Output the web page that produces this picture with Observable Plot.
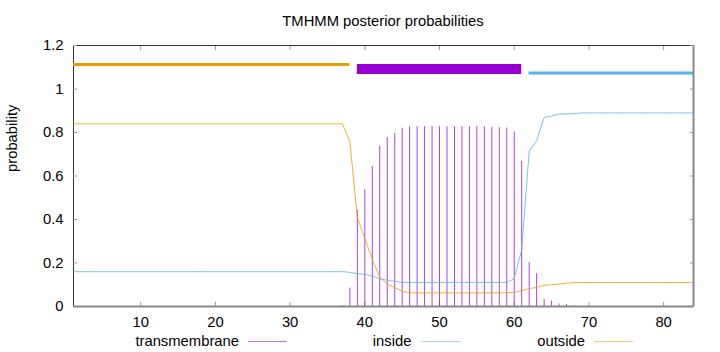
<!DOCTYPE html>
<html>
<head>
<meta charset="utf-8">
<script src="https://cdn.jsdelivr.net/npm/d3@7"></script>
<script src="https://cdn.jsdelivr.net/npm/@observablehq/plot@0.6"></script>
<style>
  html, body { margin: 0; padding: 0; background: #fff; }
  #wrap { position: relative; width: 720px; height: 352px; font-family: "Liberation Sans", Arial, sans-serif; color: #000; }
  #title { position: absolute; left: 73px; width: 620px; top: 12px; height: 18px; line-height: 18px; text-align: center; font-size: 14.8px; }
  #chart { position: absolute; left: 0; top: 30px; }
  .lg-text { position: absolute; font-size: 14.8px; line-height: 14px; text-align: right; white-space: nowrap; }
  .lg-line { position: absolute; height: 1px; }
</style>
</head>
<body>
<div id="wrap">
  <div id="title">TMHMM posterior probabilities</div>
  <div id="chart"></div>
  <div id="legend"></div>
</div>
<script>
// ---- data ----
const transmembrane = [
  0,0,0,0,0,0,0,0,0,0, 0,0,0,0,0,0,0,0,0,0, 0,0,0,0,0,0,0,0,0,0, 0,0,0,0,0,0,
  0.003, 0.085, 0.442, 0.538, 0.644, 0.737, 0.777, 0.796, 0.820,
  0.827, 0.827, 0.827, 0.827, 0.827, 0.827, 0.827, 0.827, 0.827, 0.827, 0.827,
  0.824, 0.822, 0.821, 0.803, 0.667, 0.202, 0.151, 0.033, 0.024, 0.012, 0.009, 0.003,
  0,0,0,0,0,0,0,0,0,0,0,0,0,0,0,0
];
const inside = [
  0.160,0.160,0.160,0.160,0.160,0.160,0.160,0.160,0.160,0.160,
  0.160,0.160,0.160,0.160,0.160,0.160,0.160,0.160,0.160,0.160,
  0.160,0.160,0.160,0.160,0.160,0.160,0.160,0.160,0.160,0.160,
  0.160,0.160,0.160,0.160,0.160,0.160,0.160,
  0.157, 0.151, 0.148, 0.140, 0.128, 0.120, 0.117,
  0.110,0.110,0.110,0.110,0.110,0.110,0.110,0.110,0.110,0.110,0.110,0.110,0.110,0.110,0.110,
  0.128, 0.261, 0.714, 0.762, 0.869, 0.876, 0.885, 0.885, 0.887,
  0.890,0.890,0.890,0.890,0.890,0.890,0.890,0.890,0.890,0.890,0.890,0.890,0.890,0.890,0.890,0.890
];
const outside = [
  0.840,0.840,0.840,0.840,0.840,0.840,0.840,0.840,0.840,0.840,
  0.840,0.840,0.840,0.840,0.840,0.840,0.840,0.840,0.840,0.840,
  0.840,0.840,0.840,0.840,0.840,0.840,0.840,0.840,0.840,0.840,
  0.840,0.840,0.840,0.840,0.840,0.840,0.840,
  0.758, 0.407, 0.314, 0.216, 0.135, 0.103, 0.087, 0.070,
  0.063,0.063,0.063,0.063,0.063,0.063,0.063,0.063,0.063,0.063,0.063,0.063,0.063,0.063,
  0.065, 0.072, 0.083, 0.087, 0.098, 0.100, 0.103, 0.107,
  0.110,0.110,0.110,0.110,0.110,0.110,0.110,0.110,0.110,0.110,0.110,0.110,0.110,0.110,0.110,0.110,0.110
];
// predicted topology segments drawn above the curves
const regionType  = ["outside", "TMhelix", "inside"];
const regionStart = [1, 39, 62];
const regionEnd   = [38, 61, 84];
const regionLevel = [1.113, 1.092, 1.073];

const xDomain = [1, 84];
const yDomain = [0, 1.2];
const xTicks = [10, 20, 30, 40, 50, 60, 70, 80];
const yTicks = [0, 0.2, 0.4, 0.6, 0.8, 1, 1.2];
const yTickLabels = ["0", "0.2", "0.4", "0.6", "0.8", "1", "1.2"];
const legendLabels = ["transmembrane", "inside", "outside"];

// ---- styles ----
const colors = { transmembrane: "#9400D3", inside: "#56B4E9", outside: "#E69F00", TMhelix: "#9400D3" };
const bandWidth = { outside: 3, TMhelix: 10, inside: 3 };

const positions = transmembrane.map((_, i) => i + 1);
const rows = positions.map((p, i) => ({ pos: p, tm: transmembrane[i], inside: inside[i], outside: outside[i] }));
const regions = regionType.map((t, i) => ({ type: t, start: regionStart[i], end: regionEnd[i], level: regionLevel[i] }));

const chart = Plot.plot({
  width: 720,
  height: 300,
  marginLeft: 73,
  marginRight: 27,
  marginTop: 15,
  marginBottom: 24,
  style: { fontFamily: '"Liberation Sans", Arial, sans-serif', fontSize: "14.8px", background: "#fff", color: "#000" },
  x: { domain: xDomain },
  y: { domain: yDomain },
  marks: [
    // frame
    Plot.ruleX([xDomain[0]], { stroke: "#333", strokeWidth: 1 }),
    Plot.ruleY([yDomain[1]], { stroke: "#333", strokeWidth: 1 }),
    // inward ticks on all sides
    Plot.axisX(xTicks, { anchor: "bottom", tickSize: -4, text: null, stroke: "#999" }),
    Plot.axisX(xTicks, { anchor: "top", tickSize: -4, text: null, stroke: "#999" }),
    Plot.axisY(yTicks, { anchor: "left", tickSize: -4, text: null, stroke: "#999" }),
    Plot.axisY(yTicks, { anchor: "right", tickSize: -4, text: null, stroke: "#999" }),
    // tick labels
    Plot.axisX(xTicks, { anchor: "bottom", tickSize: 0, tickPadding: 10, label: null, fill: "#000" }),
    Plot.axisY(yTicks, { anchor: "left", tickSize: 0, tickPadding: 10, label: null, fill: "#000",
      tickFormat: (d, i) => yTickLabels[i] }),
    // transmembrane impulses
    Plot.ruleX(rows.filter(d => d.tm > 0), { x: "pos", y1: 0, y2: "tm", stroke: colors.transmembrane, strokeWidth: 1, strokeOpacity: 0.75 }),
    // inside / outside curves
    Plot.lineY(rows, { x: "pos", y: "inside", stroke: colors.inside, strokeWidth: 1, strokeOpacity: 0.8 }),
    Plot.lineY(rows, { x: "pos", y: "outside", stroke: colors.outside, strokeWidth: 1, strokeOpacity: 0.8 }),
    // topology bars
    ...regions.map(r => Plot.ruleY([r], { y: "level", x1: "start", x2: "end", stroke: colors[r.type], strokeWidth: bandWidth[r.type] })),
    // bottom & right border (gray)
    Plot.ruleY([yDomain[0]], { stroke: "#888", strokeWidth: 2 }),
    Plot.ruleX([xDomain[1]], { stroke: "#888", strokeWidth: 2 }),
    // y label
    Plot.text(["probability"], { frameAnchor: "left", dx: -61, dy: -4, rotate: -90, fontSize: 14.8, fill: "#000" })
  ]
});
document.getElementById("chart").appendChild(chart);

// legend below the svg
const legend = document.getElementById("legend");
const legendTextRight = [239, 411.5, 585];
legendLabels.forEach((name, i) => {
  const t = document.createElement("div");
  t.className = "lg-text";
  t.textContent = name;
  t.style.right = (720 - legendTextRight[i]) + "px";
  t.style.top = "334px";
  legend.appendChild(t);
  const l = document.createElement("div");
  l.className = "lg-line";
  l.style.left = (legendTextRight[i] + 9) + "px";
  l.style.width = "39px";
  l.style.top = "341px";
  l.style.background = colors[name];
  l.style.opacity = "0.55";
  legend.appendChild(l);
});
</script>
</body>
</html>
